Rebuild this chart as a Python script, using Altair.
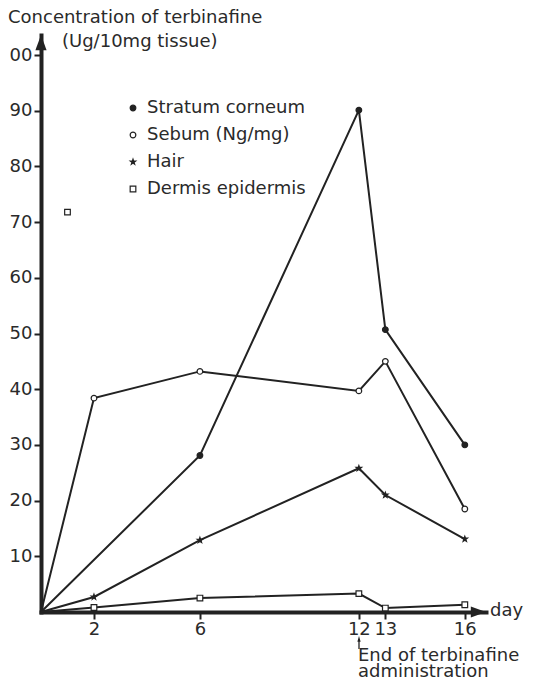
import altair as alt
import pandas as pd

# ---- data ----
series_names = ["Stratum corneum", "Sebum (Ng/mg)", "Hair", "Dermis epidermis"]

days_stratum = [0, 6, 12, 13, 16]
vals_stratum = [0, 28.1, 90.1, 50.7, 30.0]

days_other = [0, 2, 6, 12, 13, 16]
vals_sebum = [0, 38.4, 43.2, 39.7, 45.0, 18.5]
vals_hair = [0, 2.7, 12.9, 25.8, 21.0, 13.1]
vals_dermis = [0, 0.8, 2.5, 3.3, 0.7, 1.3]

# isolated dermis/epidermis marker (not connected)
stray_days = [1.0]
stray_vals = [71.8]

x_ticks = [2, 6, 12, 13, 16]
y_ticks = [10, 20, 30, 40, 50, 60, 70, 80, 90, 100]

FONT = "DejaVu Sans"
INK = "#222222"
TXT = "#2a2a2a"
STAR = ("M0,-1L0.235,-0.324L0.951,-0.309L0.38,0.124L0.588,0.809L0,0.4"
        "L-0.588,0.809L-0.38,0.124L-0.951,-0.309L-0.235,-0.324Z")

rows = []
for d, v in zip(days_stratum, vals_stratum):
    rows.append({"series": series_names[0], "group": "sc", "day": d, "value": v})
for name, g, vals in [(series_names[1], "se", vals_sebum),
                      (series_names[2], "ha", vals_hair),
                      (series_names[3], "de", vals_dermis)]:
    for d, v in zip(days_other, vals):
        rows.append({"series": name, "group": g, "day": d, "value": v})
for d, v in zip(stray_days, stray_vals):
    rows.append({"series": series_names[3], "group": "stray", "day": d, "value": v})
df = pd.DataFrame(rows)

W, H = 445, 577
xs = alt.Scale(domain=[0, 16.8], nice=False, zero=False)
ys = alt.Scale(domain=[0, 103.6], nice=False)

x_enc = alt.X("day:Q", scale=xs, axis=alt.Axis(
    values=x_ticks, title=None, grid=False, domainWidth=4, domainColor=INK,
    domainCap="square", tickColor=INK, tickWidth=2, tickSize=7,
    labelFont=FONT, labelFontSize=18, labelColor=TXT, labelPadding=1))
y_enc = alt.Y("value:Q", scale=ys, axis=alt.Axis(
    values=y_ticks, title=None, grid=False, domainWidth=4, domainColor=INK,
    domainCap="square", tickColor=INK, tickWidth=2, tickSize=7,
    labelFont=FONT, labelFontSize=18, labelColor=TXT, labelPadding=2,
    labelExpr="datum.value == 100 ? '00' : datum.label"))

lines = alt.Chart(df).mark_line(color=INK, strokeWidth=2).encode(
    x=x_enc, y=y_enc, detail="group:N", order="day:Q")

points = alt.Chart(df).transform_filter("datum.day > 0").mark_point(
    stroke=INK, strokeWidth=1.2, opacity=1).encode(
    x=alt.X("day:Q", scale=xs),
    y=alt.Y("value:Q", scale=ys),
    shape=alt.Shape("series:N", scale=alt.Scale(
        domain=series_names, range=["circle", "circle", STAR, "square"]),
        legend=alt.Legend(title=None, orient="none", legendX=83, legendY=64,
                          labelFont=FONT, labelFontSize=18, labelColor=TXT,
                          rowPadding=9, labelOffset=5, padding=0,
                          symbolStrokeColor=INK, symbolStrokeWidth=1.2)),
    fill=alt.Fill("series:N", scale=alt.Scale(
        domain=series_names, range=[INK, "white", INK, "white"]), legend=alt.Legend(title=None)),
    size=alt.Size("series:N", scale=alt.Scale(
        domain=series_names, range=[32, 32, 70, 45]), legend=alt.Legend(title=None)),
)

one = pd.DataFrame({"k": [0]})
up_arrow = alt.Chart(one).mark_point(
    shape="M0,-1L0.7,0.9L-0.7,0.9Z", filled=True, color=INK, size=256, opacity=1
).encode(x=alt.value(0), y=alt.value(8))
right_arrow = alt.Chart(one).mark_point(
    shape="M1,0L-0.9,0.7L-0.9,-0.7Z", filled=True, color=INK, size=256, opacity=1
).encode(x=alt.value(W - 8), y=alt.value(H))

# small arrow pointing at day 12 (end of administration)
end_x = 318
note_shaft = alt.Chart(one).mark_rule(color=INK, strokeWidth=1.3).encode(
    x=alt.value(end_x), y=alt.value(604), y2=alt.value(614))
note_head = alt.Chart(one).mark_point(
    shape="M0,-1L0.55,0.9L-0.55,0.9Z", filled=True, color=INK, size=36, opacity=1
).encode(x=alt.value(end_x), y=alt.value(604))


def label(txt, x, y, size=18, align="left"):
    return alt.Chart(one).mark_text(
        text=txt, font=FONT, fontSize=size, color=TXT, align=align,
        baseline="middle").encode(x=alt.value(x), y=alt.value(y))


texts = [
    label("Concentration of terbinafine", -33, -17),
    label("(Ug/10mg tissue)", 21, 7),
    label("day", 449, H - 1),
    label("End of terbinafine", 317, 621),
    label("administration", 317, 637),
]

chart = alt.layer(lines, points, up_arrow, right_arrow, note_shaft, note_head,
                  *texts).properties(
    width=W, height=H,
    autosize=alt.AutoSizeParams(type="none"),
    padding={"left": 33, "top": 27, "right": 64, "bottom": 65},
).configure_view(stroke=None)

chart.save("out.html", embed_options={"renderer": "svg", "actions": False})
